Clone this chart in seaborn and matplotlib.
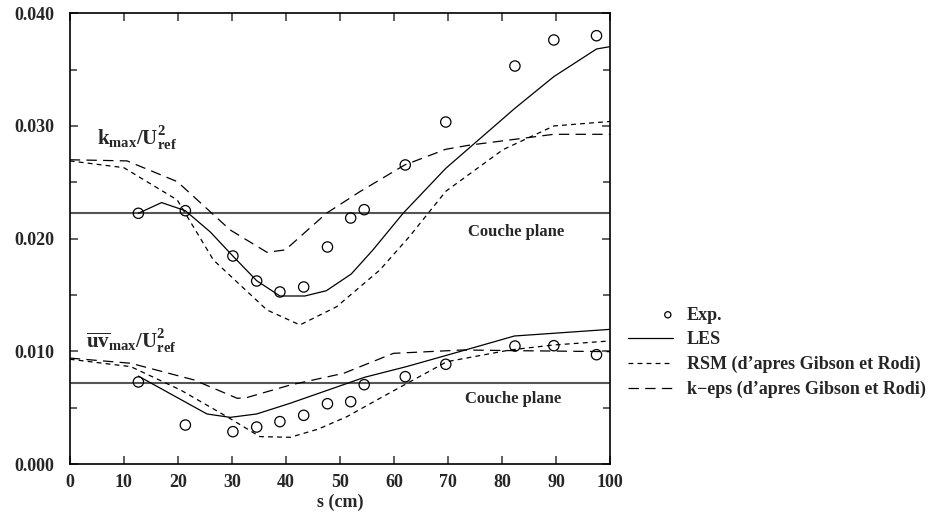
import numpy as np
import pandas as pd
import seaborn as sns
import matplotlib.pyplot as plt
from matplotlib.ticker import MultipleLocator
from matplotlib.collections import PathCollection
from matplotlib.legend_handler import HandlerPathCollection

# experimental points
s_exp = [12.7, 21.4, 30.2, 34.6, 38.9, 43.3, 47.7, 52.0, 54.5, 62.1, 69.6, 82.4, 89.6, 97.5]
k_exp = [0.02225, 0.02248, 0.01846, 0.01624, 0.01527, 0.01571, 0.01926, 0.02183, 0.02257,
         0.02654, 0.03035, 0.03532, 0.03763, 0.03801]
uv_exp = [0.00728, 0.00346, 0.00287, 0.00328, 0.00376, 0.00432, 0.00535, 0.00553, 0.00704,
          0.00775, 0.00885, 0.01047, 0.0105, 0.0097]

# LES
s_les_k = [12.7, 17.0, 21.4, 26.0, 30.3, 34.6, 38.9, 43.5, 47.5, 52.1, 56.1, 61.7, 69.6, 82.4, 89.6, 97.5, 100]
les_k = [0.02225, 0.0232, 0.02248, 0.0206, 0.0184, 0.01627, 0.01491, 0.01491, 0.01538, 0.01686,
         0.01899, 0.02225, 0.02624, 0.03157, 0.03438, 0.03683, 0.03704]
s_les_uv = [12.7, 25.4, 29.7, 34.6, 40.8, 54.6, 62.3, 72.8, 82.3, 100]
les_uv = [0.0078, 0.00444, 0.00414, 0.00444, 0.00539, 0.0077, 0.00864, 0.01006, 0.01136, 0.01195]

# RSM (d'apres Gibson et Rodi)
s_rsm_k = [0, 10.0, 19.9, 26.6, 36.5, 42.6, 49.4, 57.4, 62.9, 69.6, 80.2, 89.6, 100]
rsm_k = [0.0269, 0.0263, 0.02343, 0.0181, 0.01367, 0.01234, 0.01396, 0.01722, 0.0202, 0.0242,
         0.0279, 0.0300, 0.0304]
s_rsm_uv = [0, 11.3, 20.5, 29.1, 35.2, 40.8, 46.0, 51.3, 57.4, 63.6, 69.8, 81.5, 89.5, 100]
rsm_uv = [0.0093, 0.00864, 0.00657, 0.0042, 0.00243, 0.00237, 0.0031, 0.0042, 0.00583, 0.00746,
          0.00908, 0.01012, 0.01056, 0.01092]

# k-eps (d'apres Gibson et Rodi)
s_keps_k = [0, 10.6, 19.9, 29.7, 36.5, 39.9, 47.5, 53.7, 62.0, 69.6, 74.0, 89.6, 100]
keps_k = [0.0270, 0.0269, 0.02506, 0.02077, 0.01879, 0.0190, 0.02225, 0.02417, 0.02654, 0.02793,
          0.0283, 0.02926, 0.02926]
s_keps_uv = [0, 11.3, 23.0, 31.0, 32.8, 40.8, 50.7, 59.9, 72.8, 82.3, 100]
keps_uv = [0.0094, 0.00894, 0.00746, 0.00583, 0.0059, 0.00701, 0.00805, 0.00982, 0.01012, 0.01006, 0.00997]

# couche plane reference levels
plane_k = 0.02225
plane_uv = 0.00722


class EndMarker(HandlerPathCollection):
    # put the legend circle at the right end of the handle box
    def get_xdata(self, legend, xdescent, ydescent, width, height, fontsize):
        x = width - xdescent - 4
        return [x], [x]


sns.set_theme(style="ticks")
plt.rcParams["font.family"] = ["Liberation Serif", "DejaVu Serif"]
plt.rcParams["font.weight"] = "bold"
plt.rcParams["mathtext.fontset"] = "custom"
plt.rcParams["mathtext.rm"] = "Liberation Serif:bold"
plt.rcParams["mathtext.bf"] = "Liberation Serif:bold"
plt.rcParams["mathtext.it"] = "Liberation Serif:bold"
plt.rcParams["lines.scale_dashes"] = False

fig = plt.figure(figsize=(9.49, 5.21), dpi=100)
ax = fig.add_axes([0.0735, 0.1094, 0.5693, 0.8651])

ax.axhline(plane_k, color="#555555", lw=1.5, zorder=1)
ax.axhline(plane_uv, color="#555555", lw=1.5, zorder=1)

sns.scatterplot(x=s_exp, y=k_exp, ax=ax, marker="o", s=55, facecolor="none",
                edgecolor="black", linewidth=0.9, label="Exp.", zorder=3)
sns.scatterplot(x=s_exp, y=uv_exp, ax=ax, marker="o", s=55, facecolor="none",
                edgecolor="black", linewidth=0.9, zorder=3)

sns.lineplot(x=s_les_k, y=les_k, ax=ax, color="black", lw=0.9, label="LES")
sns.lineplot(x=s_les_uv, y=les_uv, ax=ax, color="black", lw=0.9)

sns.lineplot(x=s_rsm_k, y=rsm_k, ax=ax, color="black", lw=0.9,
             label="RSM (d\u2019apres Gibson et Rodi)")
ax.lines[-1].set_dashes((3.5, 3))
sns.lineplot(x=s_rsm_uv, y=rsm_uv, ax=ax, color="black", lw=0.9)
ax.lines[-1].set_dashes((3.5, 3))

sns.lineplot(x=s_keps_k, y=keps_k, ax=ax, color="black", lw=0.9,
             label="k\u2212eps (d\u2019apres Gibson et Rodi)")
ax.lines[-1].set_dashes((7.5, 4.5))
sns.lineplot(x=s_keps_uv, y=keps_uv, ax=ax, color="black", lw=0.9)
ax.lines[-1].set_dashes((7.5, 4.5))

ax.set_xlim(0, 100)
ax.set_ylim(0, 0.04)
ax.xaxis.set_major_locator(MultipleLocator(10))
ax.yaxis.set_major_locator(MultipleLocator(0.01))
ax.yaxis.set_minor_locator(MultipleLocator(0.005))
ax.yaxis.set_major_formatter(plt.FormatStrFormatter("%.3f"))
ax.tick_params(axis="both", which="both", direction="in", top=True, right=True,
               color="#444444", width=1.2, labelsize=13)
ax.tick_params(axis="both", which="major", length=6)
ax.tick_params(axis="y", which="minor", length=5)
ax.tick_params(axis="x", pad=7)
ax.tick_params(axis="y", pad=11)
for sp in ax.spines.values():
    sp.set_linewidth(1.2)
    sp.set_color("black")
    sp.set_visible(True)

ax.set_xlabel("s (cm)", fontsize=13, fontweight="bold", labelpad=2)
ax.set_ylabel("")

ax.text(5.0, 0.0289, r"$\mathbf{k_{max}/U_{ref}^{2}}$", fontsize=15, va="center", ha="left")
ax.text(3.1, 0.0109, r"$\mathbf{\overline{uv}_{max}/U_{ref}^{2}}$", fontsize=15, va="center", ha="left")
ax.text(82.6, 0.0206, "Couche plane", fontsize=12, fontweight="bold", ha="center", va="center")
ax.text(82.0, 0.00574, "Couche plane", fontsize=12, fontweight="bold", ha="center", va="center")

leg = ax.legend(loc="center left", bbox_to_anchor=(0.662, 0.324), bbox_transform=fig.transFigure,
                frameon=False, fontsize=13, handlelength=2.5, handletextpad=0.75,
                labelspacing=0.42, borderpad=0, borderaxespad=0, markerscale=0.6,
                handler_map={PathCollection: EndMarker()})
for t in leg.get_texts():
    t.set_fontweight("bold")

fig.savefig("out.png", dpi=100)
plt.close(fig)
